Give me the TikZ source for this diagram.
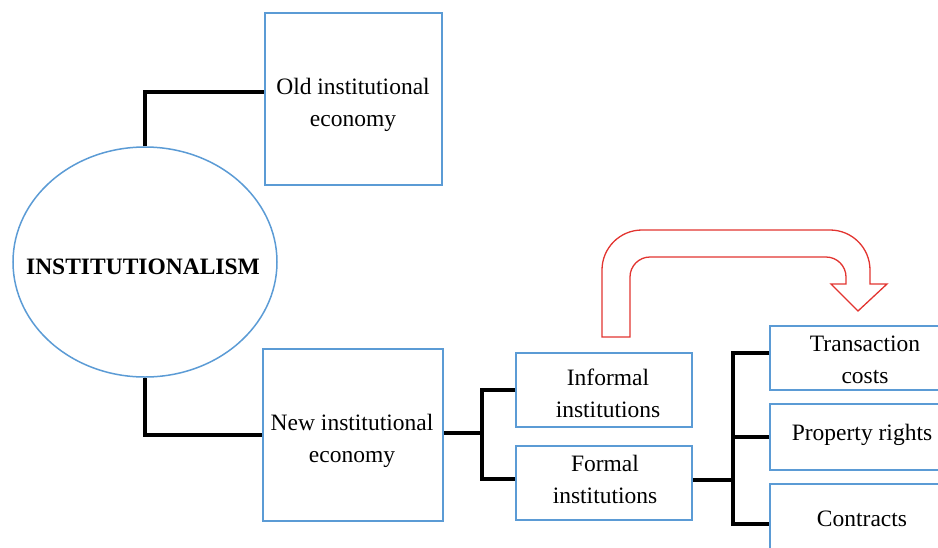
\documentclass[tikz,border=0pt]{standalone}
\usepackage{fontspec}
\setmainfont{Liberation Serif}
\usetikzlibrary{shapes.geometric}
\definecolor{boxblue}{RGB}{91,155,213}
\definecolor{arrred}{RGB}{226,52,48}
\begin{document}
\begin{tikzpicture}[x=1pt,y=-1pt,
  txt/.style={inner sep=0pt,align=center,font=\fontsize{23.5}{32}\selectfont},
  bluebox/.style={draw=boxblue,line width=1.5pt,rectangle,inner sep=0pt},
  conn/.style={line width=3.8pt,black},
  redarrow/.style={draw=arrred,line width=1.3pt,line join=miter}]
\useasboundingbox (0,0) rectangle (938,547);
\clip (0,0) rectangle (938,547);
% ellipse
\node[ellipse,draw=boxblue,line width=1.5pt,minimum width=264pt,minimum height=230pt,inner sep=0pt] (ell) at (145,262) {};
\node[txt,font=\fontsize{23.5}{32}\selectfont\bfseries] (ellt) at (143,267) {INSTITUTIONALISM};
% boxes
\node[bluebox,minimum width=177pt,minimum height=172pt] (old) at (353.5,99) {};
\node[txt] (oldt) at (353,105) {Old institutional\\economy};
\node[bluebox,minimum width=180pt,minimum height=172pt] (new) at (353,435) {};
\node[txt] (newt) at (352,441) {New institutional\\economy};
\node[bluebox,minimum width=176pt,minimum height=74pt] (inf) at (604,390) {};
\node[txt] (inft) at (608,393) {Informal\\institutions};
\node[bluebox,minimum width=176pt,minimum height=74pt] (for) at (604,483) {};
\node[txt] (fort) at (605,479) {Formal\\institutions};
\node[bluebox,minimum width=175pt,minimum height=64pt] (tc) at (857.5,358) {};
\node[txt] (tct) at (865,360) {Transaction\\costs};
\node[bluebox,minimum width=175pt,minimum height=66pt] (pr) at (857.5,437) {};
\node[txt] (prt) at (862,435) {Property rights};
\node[bluebox,minimum width=175pt,minimum height=80pt] (con) at (857.5,524) {};
\node[txt] (cont) at (862,519) {Contracts};
% connectors
\coordinate (j1) at (482,433);
\coordinate (j2) at (733,480);
\draw[conn] (ell.north) |- ([yshift=7pt]old.west);
\draw[conn] (ell.south) |- (new.west);
\draw[conn] ([yshift=2pt]new.east) -- (j1);
\draw[conn] (inf.west) -| (j1) |- ([yshift=4pt]for.west);
\draw[conn] ([yshift=3pt]for.east) -- (j2);
\draw[conn] ([yshift=5pt]tc.west) -| (j2) |- (con.west);
\draw[conn] (pr.west) -- (pr.west -| j2);
% red U-turn arrow
\draw[redarrow] (602,337) [rounded corners=40pt] -- (602,230) -- (870,230) [sharp corners] -- (870,284) -- (887,284) -- (858,311) -- (831,284) -- (846,284) [rounded corners=20pt] -- (846,257) -- (630,257) [sharp corners] -- (630,337) -- cycle;
\end{tikzpicture}
\end{document}
